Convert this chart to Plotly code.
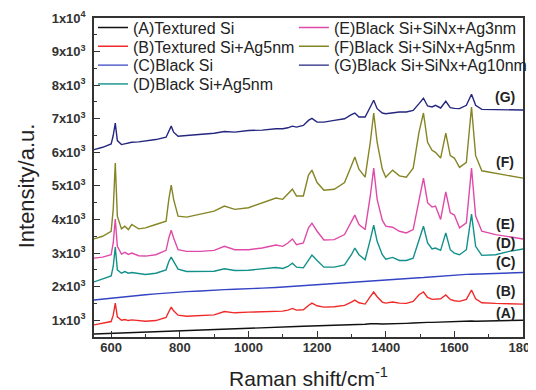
import plotly.graph_objects as go

raman_shift = [550, 575, 600, 606, 612, 618, 630, 640, 650, 660, 680, 700, 730, 760, 768, 775, 782, 795,
               820, 860, 900, 930, 960, 1000, 1040, 1080, 1100, 1115, 1128, 1140, 1160, 1175, 1185, 1200,
               1220, 1250, 1280, 1300, 1310, 1322, 1340, 1355, 1365, 1375, 1390, 1400, 1420, 1440, 1460,
               1480, 1497, 1510, 1522, 1535, 1545, 1560, 1575, 1588, 1600, 1615, 1635, 1650, 1662, 1680,
               1720, 1760, 1800]

series_A = [590, 600, 615, 615, 620, 620, 625, 630, 630, 635, 640, 650, 660, 670, 675, 680, 680, 685,
            690, 705, 720, 735, 745, 760, 775, 790, 800, 805, 810, 812, 818, 822, 828, 832,
            838, 845, 855, 862, 868, 870, 878, 895, 905, 895, 885, 885, 890, 895, 905,
            915, 930, 945, 935, 935, 940, 945, 950, 950, 955, 960, 965, 975, 970, 975,
            985, 990, 1000]

series_B = [860, 900, 960, 1150, 1510, 1100, 1000, 1020, 990, 1010, 980, 970, 990, 1080, 1250, 1390, 1280, 1150,
            1120, 1130, 1160, 1260, 1220, 1240, 1250, 1280, 1270, 1300, 1350, 1300, 1310, 1440, 1510, 1430,
            1390, 1400, 1440, 1540, 1600, 1520, 1480, 1700, 1840, 1700, 1540, 1510, 1540, 1510, 1500,
            1560, 1760, 1840, 1680, 1620, 1630, 1640, 1750, 1620, 1580, 1560, 1620, 1900, 1640, 1520,
            1500, 1490, 1480]

series_C = [1600, 1630, 1660, 1665, 1670, 1675, 1685, 1690, 1700, 1710, 1735, 1760, 1785, 1810, 1815, 1820, 1825, 1835,
            1850, 1870, 1900, 1910, 1920, 1930, 1955, 1975, 1990, 2000, 2010, 2020, 2035, 2045, 2050, 2060,
            2075, 2090, 2110, 2125, 2130, 2140, 2155, 2170, 2180, 2190, 2195, 2200, 2215, 2230, 2245,
            2255, 2265, 2270, 2280, 2290, 2300, 2315, 2330, 2340, 2350, 2355, 2365, 2370, 2375, 2380,
            2395, 2410, 2420]

series_D = [2140, 2220, 2320, 2600, 3180, 2500, 2400, 2450, 2400, 2420, 2380, 2360, 2400, 2500, 2750, 2880, 2750, 2520,
            2450, 2450, 2460, 2530, 2480, 2490, 2530, 2570, 2540, 2600, 2700, 2580, 2560, 2800, 2940, 2780,
            2580, 2580, 2650, 2950, 3150, 2950, 2800, 3400, 3830, 3350, 2950, 2820, 2870, 2780, 2780,
            2850, 3400, 3800, 3300, 3120, 3150, 3080, 3600, 3100, 3000, 2950, 3100, 4160, 3200, 2930,
            2950, 3050, 3120]

series_E = [2850, 2880, 2950, 3300, 4010, 3200, 2970, 3020, 2960, 3000, 2920, 2910, 2950, 3080, 3450, 3680, 3450, 3100,
            3050, 3050, 3080, 3200, 3100, 3100, 3150, 3240, 3200, 3300, 3420, 3250, 3300, 3750, 3890, 3650,
            3390, 3400, 3550, 3950, 4130, 3850, 3700, 4700, 5530, 4600, 3980, 3800, 3770, 3650, 3600,
            3700, 4600, 5230, 4500, 4370, 4400, 4000, 4820, 4200, 4130, 3750, 3900, 5530, 4100, 3650,
            3550, 3480, 3420]

series_F = [3420, 3500, 3650, 4300, 5680, 4100, 3720, 3800, 3700, 3850, 3720, 3750, 3850, 3950, 4600, 5020, 4600, 4100,
            4070, 4150, 4250, 4400, 4300, 4350, 4500, 4640, 4600, 4750, 4900, 4700, 4700, 5320, 5470, 5100,
            4870, 4900, 5100, 5600, 5860, 5500, 5260, 6300, 7170, 6300, 5500, 5260, 5470, 5300, 5260,
            5530, 6600, 7170, 6300, 6060, 6000, 5830, 6570, 5900, 5830, 5550, 5700, 7350, 5900, 5450,
            5380, 5300, 5230]

series_G = [6080, 6150, 6250, 6500, 6870, 6350, 6230, 6260, 6270, 6300, 6310, 6340, 6380, 6450, 6650, 6780, 6600, 6480,
            6500, 6530, 6570, 6620, 6600, 6650, 6660, 6700, 6700, 6730, 6780, 6750, 6800, 6950, 7010, 6900,
            6900, 6950, 7000, 7120, 7170, 7050, 7050, 7350, 7550, 7300, 7170, 7150, 7180, 7200, 7200,
            7250, 7450, 7610, 7380, 7350, 7400, 7320, 7520, 7330, 7310, 7300, 7400, 7730, 7400, 7280,
            7270, 7260, 7260]

names = ["(A)Textured Si", "(B)Textured Si+Ag5nm", "(C)Black Si", "(D)Black Si+Ag5nm",
         "(E)Black Si+SiNx+Ag3nm", "(F)Black Si+SiNx+Ag5nm", "(G)Black Si+SiNx+Ag10nm"]
labels = ["(A)", "(B)", "(C)", "(D)", "(E)", "(F)", "(G)"]
colors = ["#111111", "#f02a2a", "#3444c4", "#12908a", "#e04aa8", "#858525", "#25267f"]
label_y = [1210, 1870, 2730, 3300, 3860, 5710, 7640]
y_tick_vals = [1000, 2000, 3000, 4000, 5000, 6000, 7000, 8000, 9000, 10000]
y_tick_text = ["1x10<sup>3</sup>", "2x10<sup>3</sup>", "3x10<sup>3</sup>", "4x10<sup>3</sup>",
               "5x10<sup>3</sup>", "6x10<sup>3</sup>", "7x10<sup>3</sup>", "8x10<sup>3</sup>",
               "9x10<sup>3</sup>", "1x10<sup>4</sup>"]

all_series = [series_A, series_B, series_C, series_D, series_E, series_F, series_G]

# legend placement (paper coords): left column A-D, right column E-G
legend_x = [-0.0024, -0.0024, -0.0024, -0.0024, 0.466, 0.466, 0.466]
legend_y = [0.970, 0.911, 0.852, 0.793, 0.970, 0.911, 0.852]

font_family = "Liberation Sans, Arial, sans-serif"

fig = go.Figure()
legend_layout = {}
for i, (nm, ys, c) in enumerate(zip(names, all_series, colors)):
    lid = "legend" if i == 0 else "legend%d" % (i + 1)
    fig.add_trace(go.Scatter(
        x=raman_shift, y=ys, mode="lines", name=nm,
        line=dict(color=c, width=1.4), legend=lid,
    ))
    legend_layout[lid] = dict(
        x=legend_x[i], y=legend_y[i], xanchor="left", yanchor="middle",
        bgcolor="rgba(0,0,0,0)", borderwidth=0, itemwidth=30,
        font=dict(size=16, color="#222222", family=font_family),
    )

for lab, ly in zip(labels, label_y):
    fig.add_annotation(x=1748, y=ly, text="<b>" + lab + "</b>", showarrow=False,
                       font=dict(size=14, color="#222222", family=font_family),
                       xanchor="center", yanchor="middle")

# y-axis title
fig.add_annotation(xref="paper", yref="paper", x=-0.158, y=0.473, text="Intensity/a.u.",
                   textangle=-90, showarrow=False, xanchor="center", yanchor="middle",
                   font=dict(size=22, color="#222222", family=font_family))

# page has an 8px body margin, so the figure is sized to fit the 536x390 window
fig.update_layout(
    width=528, height=382,
    margin=dict(l=86, r=13, t=10, b=53, autoexpand=False),
    paper_bgcolor="white", plot_bgcolor="white",
    showlegend=True,
    font=dict(family=font_family, color="#222222"),
    **legend_layout,
)

fig.update_xaxes(
    range=[550, 1800], tick0=600, dtick=200, ticks="inside", ticklen=6, tickwidth=1.2,
    tickcolor="#333333", showline=True, linecolor="#333333", linewidth=1.5, mirror=True,
    showgrid=False, zeroline=False, ticklabeloverflow="allow", ticklabelstandoff=-2,
    tickfont=dict(size=13, family=font_family, color="#333333", weight="bold"),
    minor=dict(ticks="inside", ticklen=3, dtick=100, tick0=600, tickcolor="#333333", showgrid=False),
    title=dict(text="Raman shift/cm<sup>-1</sup>", font=dict(size=21, family=font_family, color="#222222"),
               standoff=19),
    automargin=False,
)
fig.update_yaxes(
    range=[500, 10000], tickvals=y_tick_vals, ticktext=y_tick_text, ticks="inside", ticklen=6,
    tickwidth=1.2, tickcolor="#333333", showline=True, linecolor="#333333", linewidth=1.5, mirror=True,
    showgrid=False, zeroline=False, ticklabelstandoff=4,
    tickfont=dict(size=13, family=font_family, color="#333333", weight="bold"),
    minor=dict(ticks="inside", ticklen=3, tickvals=[500, 1500, 2500, 3500, 4500, 5500, 6500, 7500, 8500, 9500],
               tickcolor="#333333", showgrid=False),
    automargin=False,
)

fig.write_html("out.html")
